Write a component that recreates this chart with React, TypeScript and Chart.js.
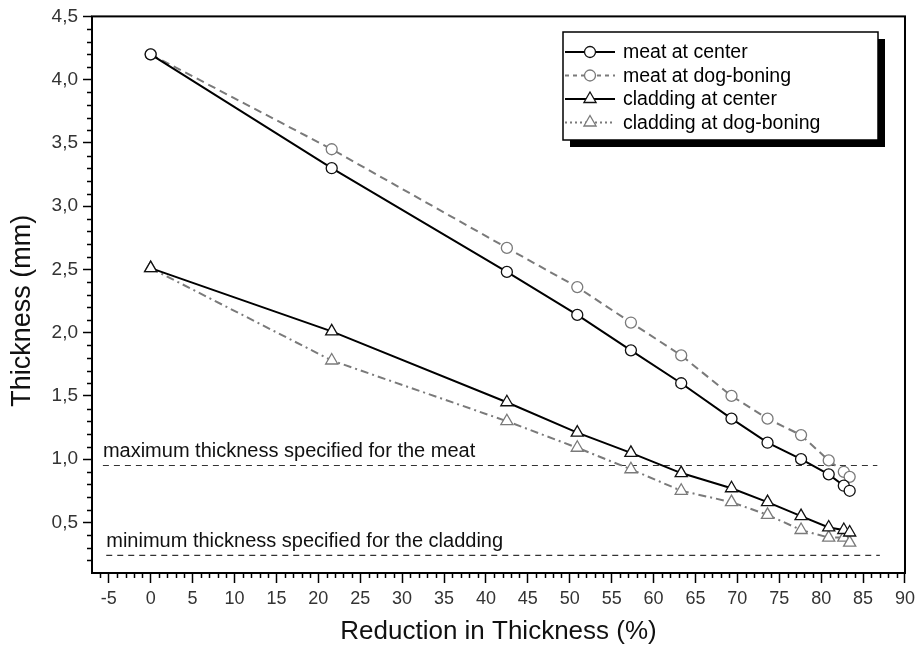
import { useEffect, useRef } from 'react';
import { Chart, registerables } from 'chart.js';

Chart.register(...registerables);

// ---- data ----
const reductionPercent = [0, 21.6, 42.5, 50.9, 57.3, 63.3, 69.3, 73.6, 77.6, 80.9, 82.7, 83.4];
const meatAtCenter = [4.2, 3.3, 2.48, 2.14, 1.86, 1.6, 1.32, 1.13, 1.0, 0.88, 0.79, 0.75];
const meatAtDogBoning = [4.2, 3.45, 2.67, 2.36, 2.08, 1.82, 1.5, 1.32, 1.19, 0.99, 0.9, 0.86];
const claddingAtCenter = [2.51, 2.01, 1.45, 1.21, 1.05, 0.89, 0.77, 0.66, 0.55, 0.46, 0.44, 0.42];
const claddingAtDogBoning = [2.51, 1.78, 1.3, 1.09, 0.92, 0.75, 0.66, 0.56, 0.44, 0.38, 0.38, 0.34];

const seriesNames = ['meat at center', 'meat at dog-boning', 'cladding at center', 'cladding at dog-boning'];

const specLevels = [0.95, 0.24];
const specStart = [-5.7, -5.3];
const specEnd = [86.7, 87];
const specLabels = ['maximum thickness specified for the meat', 'minimum thickness specified for the cladding'];

const xTicks = [-5, 0, 5, 10, 15, 20, 25, 30, 35, 40, 45, 50, 55, 60, 65, 70, 75, 80, 85, 90];
const yTicks = [0.5, 1.0, 1.5, 2.0, 2.5, 3.0, 3.5, 4.0, 4.5];

const xTitle = 'Reduction in Thickness (%)';
const yTitle = 'Thickness (mm)';

const FONT = "'Liberation Sans', Arial, sans-serif";
const GRAY = '#7a7a7a';

const toPts = (ys: number[]) => ys.map((y, i) => ({ x: reductionPercent[i], y }));

function drawMarker(ctx: CanvasRenderingContext2D, style: string, x: number, y: number, r: number) {
  ctx.beginPath();
  if (style === 'triangle') {
    let rad = 0;
    ctx.moveTo(x + Math.sin(rad) * r, y - Math.cos(rad) * r);
    rad += (2 * Math.PI) / 3;
    ctx.lineTo(x + Math.sin(rad) * r, y - Math.cos(rad) * r);
    rad += (2 * Math.PI) / 3;
    ctx.lineTo(x + Math.sin(rad) * r, y - Math.cos(rad) * r);
    ctx.closePath();
  } else {
    ctx.arc(x, y, r, 0, Math.PI * 2);
  }
  ctx.fill();
  ctx.stroke();
}

const decorPlugin = {
  id: 'decor',
  beforeDatasetsDraw(chart: any) {
    const { ctx, scales, chartArea: a } = chart;
    const x = scales.x;
    const y = scales.y;
    ctx.save();
    ctx.fillStyle = '#111';
    ctx.font = `20px ${FONT}`;
    ctx.textAlign = 'left';
    ctx.textBaseline = 'alphabetic';
    specLabels.forEach((t, i) => {
      ctx.fillText(t, x.getPixelForValue(specStart[i]), y.getPixelForValue(specLevels[i]) - 8);
    });
    // y title
    ctx.save();
    ctx.translate(23, (a.top + a.bottom) / 2 + 16);
    ctx.rotate(-Math.PI / 2);
    ctx.font = `27px ${FONT}`;
    ctx.textAlign = 'center';
    ctx.textBaseline = 'middle';
    ctx.fillStyle = '#111';
    ctx.fillText(yTitle, 0, 0);
    ctx.restore();
    ctx.restore();
  },
  afterDraw(chart: any) {
    const { ctx, chartArea: a, scales } = chart;
    const x = scales.x;
    const y = scales.y;
    ctx.save();
    // frame
    ctx.strokeStyle = '#000';
    ctx.lineWidth = 2;
    ctx.strokeRect(a.left, a.top, a.right - a.left, a.bottom - a.top);
    // minor ticks
    ctx.lineWidth = 1.5;
    ctx.beginPath();
    for (let i = Math.ceil(x.min) + 1; i < x.max; i++) {
      if (i % 5 === 0) continue;
      const px = Math.round(x.getPixelForValue(i)) + 0.5;
      ctx.moveTo(px, a.bottom);
      ctx.lineTo(px, a.bottom + 5);
    }
    for (let k = Math.round(y.min * 10) + 1; k < Math.round(y.max * 10); k++) {
      if (k % 5 === 0) continue;
      const py = Math.round(y.getPixelForValue(k / 10)) + 0.5;
      ctx.moveTo(a.left, py);
      ctx.lineTo(a.left - 5, py);
    }
    ctx.stroke();

    // legend
    const lx = 563;
    const ly = 32;
    const lw = 315;
    const lh = 108;
    ctx.fillStyle = '#000';
    ctx.fillRect(lx + 7, ly + 7, lw, lh);
    ctx.fillStyle = '#fff';
    ctx.fillRect(lx, ly, lw, lh);
    ctx.strokeStyle = '#000';
    ctx.lineWidth = 1.5;
    ctx.strokeRect(lx, ly, lw, lh);
    const dsets = chart.data.datasets.slice(0, 4);
    dsets.forEach((ds: any, i: number) => {
      const cy = ly + 20 + i * 23.5;
      ctx.save();
      ctx.strokeStyle = ds.borderColor;
      ctx.lineWidth = ds.borderWidth;
      ctx.setLineDash(ds.legendDash || []);
      ctx.beginPath();
      ctx.moveTo(lx + 2, cy);
      ctx.lineTo(lx + 52, cy);
      ctx.stroke();
      ctx.setLineDash([]);
      ctx.fillStyle = '#fff';
      ctx.strokeStyle = ds.pointBorderColor;
      ctx.lineWidth = ds.pointBorderWidth;
      drawMarker(ctx, ds.pointStyle, lx + 27, cy, ds.pointRadius);
      ctx.restore();
      ctx.fillStyle = '#000';
      ctx.font = `19.5px ${FONT}`;
      ctx.textAlign = 'left';
      ctx.textBaseline = 'middle';
      ctx.fillText(ds.label, lx + 60, cy + 1);
    });
    ctx.restore();
  },
};

export default function App() {
  const ref = useRef<HTMLCanvasElement | null>(null);

  useEffect(() => {
    if (!ref.current) return;
    const series = [meatAtCenter, meatAtDogBoning, claddingAtCenter, claddingAtDogBoning];
    const styles = [
      { color: '#000', dash: [], legendDash: [], point: 'circle', r: 5.5, pc: '#111' },
      { color: GRAY, dash: [8, 5], legendDash: [4, 4], point: 'circle', r: 5.5, pc: GRAY },
      { color: '#000', dash: [], legendDash: [], point: 'triangle', r: 7, pc: '#111' },
      { color: GRAY, dash: [8, 4, 2, 4], legendDash: [2, 3], point: 'triangle', r: 7, pc: GRAY },
    ];
    const datasets: any[] = series.map((s, i) => ({
      label: seriesNames[i],
      data: toPts(s),
      showLine: true,
      borderColor: styles[i].color,
      borderWidth: 2,
      borderDash: styles[i].dash,
      legendDash: styles[i].legendDash,
      pointStyle: styles[i].point,
      pointRadius: styles[i].r,
      pointBorderColor: styles[i].pc,
      pointBorderWidth: 1.3,
      pointBackgroundColor: '#fff',
      order: i % 2 === 0 ? 0 : 1,
    }));
    specLevels.forEach((lv, i) => {
      datasets.push({
        label: specLabels[i],
        data: [
          { x: specStart[i], y: lv },
          { x: specEnd[i], y: lv },
        ],
        showLine: true,
        borderColor: '#333',
        borderWidth: 1.2,
        borderDash: [6, 5],
        pointRadius: 0,
        order: 2,
      });
    });

    const chart = new Chart(ref.current, {
      type: 'scatter',
      data: { datasets },
      plugins: [decorPlugin],
      options: {
        animation: false,
        responsive: false,
        maintainAspectRatio: false,
        layout: { padding: { top: 16, right: 12, bottom: 0, left: 0 } },
        plugins: { legend: { display: false }, tooltip: { enabled: false } },
        scales: {
          x: {
            type: 'linear',
            min: -7,
            max: 90,
            afterBuildTicks: (s: any) => {
              s.ticks = xTicks.map((v) => ({ value: v }));
            },
            afterFit: (s: any) => {
              s.height = 79;
            },
            border: { display: false },
            grid: { drawOnChartArea: false, drawTicks: true, tickLength: 10, tickColor: '#000', tickWidth: 1.5 },
            ticks: {
              autoSkip: false,
              maxRotation: 0,
              padding: 5,
              color: '#333',
              font: { family: FONT, size: 18 },
              callback: (v: any) => String(v),
            },
            title: {
              display: true,
              text: xTitle,
              color: '#111',
              font: { family: FONT, size: 26 },
              padding: { top: 0, bottom: 5 },
            },
          },
          y: {
            type: 'linear',
            min: 0.1,
            max: 4.5,
            afterBuildTicks: (s: any) => {
              s.ticks = yTicks.map((v) => ({ value: v }));
            },
            afterFit: (s: any) => {
              s.width = 92;
            },
            border: { display: false },
            grid: { drawOnChartArea: false, drawTicks: true, tickLength: 9, tickColor: '#000', tickWidth: 1.5 },
            ticks: {
              autoSkip: false,
              padding: 5,
              color: '#333',
              font: { family: FONT, size: 19 },
              callback: (v: any) => Number(v).toFixed(1).replace('.', ','),
            },
          },
        },
      },
    });
    return () => chart.destroy();
  }, []);

  return (
    <div style={{ position: 'fixed', left: 0, top: 0, width: 920, height: 652, background: '#fff' }}>
      <canvas ref={ref} width={920} height={652} style={{ width: 920, height: 652, display: 'block' }} />
    </div>
  );
}
